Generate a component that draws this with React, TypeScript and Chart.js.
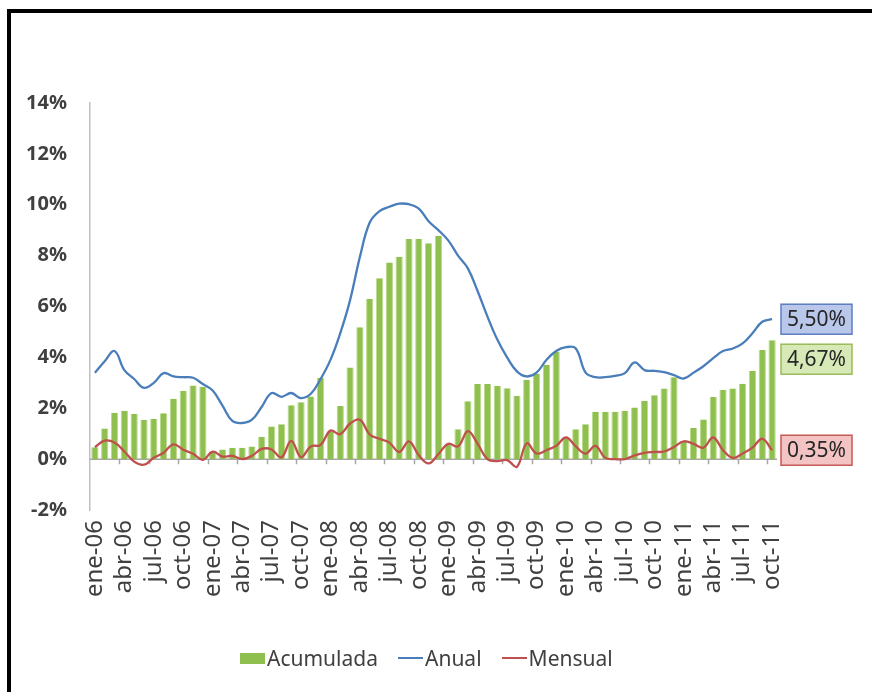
import React, { useEffect, useRef } from 'react';
import { Chart, registerables } from 'chart.js';

Chart.register(...registerables);

const categories = [
  'ene-06','feb-06','mar-06','abr-06','may-06','jun-06','jul-06','ago-06','sep-06','oct-06','nov-06','dic-06',
  'ene-07','feb-07','mar-07','abr-07','may-07','jun-07','jul-07','ago-07','sep-07','oct-07','nov-07','dic-07',
  'ene-08','feb-08','mar-08','abr-08','may-08','jun-08','jul-08','ago-08','sep-08','oct-08','nov-08','dic-08',
  'ene-09','feb-09','mar-09','abr-09','may-09','jun-09','jul-09','ago-09','sep-09','oct-09','nov-09','dic-09',
  'ene-10','feb-10','mar-10','abr-10','may-10','jun-10','jul-10','ago-10','sep-10','oct-10','nov-10','dic-10',
  'ene-11','feb-11','mar-11','abr-11','may-11','jun-11','jul-11','ago-11','sep-11','oct-11',
];

const acumulada = [
  0.47, 1.20, 1.82, 1.90, 1.78, 1.55, 1.59, 1.80, 2.37, 2.69, 2.89, 2.85,
  0.29, 0.38, 0.45, 0.45, 0.50, 0.88, 1.28, 1.37, 2.12, 2.24, 2.46, 3.20,
  1.10, 2.09, 3.60, 5.18, 6.29, 7.11, 7.73, 7.96, 8.65, 8.65, 8.49, 8.78,
  0.59, 1.17, 2.28, 2.95, 2.95, 2.87, 2.79, 2.49, 3.12, 3.36, 3.71, 4.22,
  0.82, 1.17, 1.37, 1.86, 1.86, 1.86, 1.90, 2.03, 2.29, 2.51, 2.78, 3.22,
  0.70, 1.22, 1.56, 2.44, 2.72, 2.78, 2.96, 3.47, 4.29, 4.67,
];

const anual = [
  3.40, 3.85, 4.25, 3.50, 3.15, 2.80, 3.00, 3.38, 3.25, 3.22, 3.20, 2.95,
  2.70, 2.10, 1.50, 1.42, 1.55, 2.06, 2.60, 2.45, 2.60, 2.40, 2.57, 3.15,
  3.90, 4.95, 6.25, 7.95, 9.30, 9.75, 9.92, 10.04, 10.02, 9.85, 9.35, 9.00,
  8.60, 8.00, 7.50, 6.60, 5.60, 4.70, 4.00, 3.45, 3.25, 3.40, 3.90, 4.25,
  4.40, 4.35, 3.40, 3.22, 3.22, 3.27, 3.38, 3.80, 3.50, 3.47, 3.42, 3.30,
  3.17, 3.40, 3.65, 3.97, 4.25, 4.35, 4.55, 4.95, 5.40, 5.50,
];

const mensual = [
  0.47, 0.73, 0.65, 0.30, -0.10, -0.22, 0.05, 0.25, 0.58, 0.37, 0.21, -0.03,
  0.29, 0.10, 0.13, 0.00, 0.13, 0.40, 0.38, 0.07, 0.72, 0.08, 0.50, 0.56,
  1.12, 0.98, 1.40, 1.55, 0.97, 0.80, 0.65, 0.28, 0.70, 0.15, -0.17, 0.20,
  0.60, 0.50, 1.10, 0.60, 0.00, -0.08, -0.04, -0.30, 0.62, 0.22, 0.35, 0.52,
  0.85, 0.50, 0.22, 0.52, 0.05, 0.00, 0.00, 0.15, 0.25, 0.28, 0.30, 0.48,
  0.70, 0.60, 0.45, 0.85, 0.35, 0.05, 0.22, 0.45, 0.80, 0.35,
];

const seriesNames = ['Acumulada', 'Anual', 'Mensual'];
const yMin = -2;
const yMax = 14;
const yStep = 2;
const labelEvery = 3;

const GREEN = '#8fc04f';
const BLUE = '#4a7ebb';
const RED = '#c0504d';
const seriesColors = [GREEN, BLUE, RED];
const FONT = "'Noto Sans', 'DejaVu Sans', sans-serif";

const endLabelStyles = [
  { fill: '#d7e9b6', stroke: '#9bbb59' },
  { fill: '#b9c7ea', stroke: '#5d7dc2' },
  { fill: '#f4c3c3', stroke: '#c65a57' },
];

const zeroAxisPlugin = {
  id: 'zeroAxis',
  beforeDatasetsDraw(chart: any) {
    const { ctx, chartArea, scales } = chart;
    const x = scales.x;
    const y = scales.y;
    const y0 = y.getPixelForValue(0);
    ctx.save();
    ctx.strokeStyle = '#a6a6a6';
    ctx.lineWidth = 1.5;
    ctx.beginPath();
    ctx.moveTo(chartArea.left, y0);
    ctx.lineTo(chartArea.right, y0);
    ctx.stroke();
    const half = (x.getPixelForValue(1) - x.getPixelForValue(0)) / 2;
    ctx.beginPath();
    for (let i = labelEvery; i < categories.length; i += labelEvery) {
      const px = Math.round(x.getPixelForValue(i) - half) + 0.5;
      ctx.moveTo(px, y0);
      ctx.lineTo(px, y0 + 5);
    }
    ctx.stroke();
    ctx.restore();
  },
};

const endLabelsPlugin = {
  id: 'endLabels',
  afterDraw(chart: any) {
    const { ctx, chartArea, scales } = chart;
    const y = scales.y;
    const items = chart.data.datasets.map((ds: any, i: number) => {
      const v = ds.data[ds.data.length - 1];
      return { v, py: y.getPixelForValue(v), style: endLabelStyles[i] };
    }).sort((a: any, b: any) => a.py - b.py);
    const h = 30;
    const w = 71;
    const gap = 10;
    let prevBottom = -Infinity;
    ctx.save();
    ctx.font = `21px ${FONT}`;
    ctx.textAlign = 'center';
    ctx.textBaseline = 'middle';
    for (const it of items) {
      const cy = Math.max(it.py, prevBottom + gap + h / 2);
      prevBottom = cy + h / 2;
      const bx = chartArea.right + 4;
      ctx.fillStyle = it.style.fill;
      ctx.strokeStyle = it.style.stroke;
      ctx.lineWidth = 1.5;
      ctx.fillRect(bx, cy - h / 2, w, h);
      ctx.strokeRect(bx, cy - h / 2, w, h);
      ctx.fillStyle = '#262626';
      ctx.fillText(it.v.toFixed(2).replace('.', ',') + '%', bx + w / 2, cy + 1);
    }
    ctx.restore();
  },
};

function LegendItem({ name, color, kind }: { name: string; color: string; kind: 'box' | 'line' }) {
  return (
    <div style={{ display: 'flex', alignItems: 'center' }}>
      <span
        style={{
          display: 'inline-block',
          width: 25,
          height: kind === 'box' ? 11 : 2.5,
          background: color,
          marginRight: 2,
        }}
      />
      <span>{name}</span>
    </div>
  );
}

export default function App() {
  const ref = useRef<HTMLCanvasElement | null>(null);

  useEffect(() => {
    if (!ref.current) return;
    const chart = new Chart(ref.current, {
      type: 'bar',
      data: {
        labels: categories,
        datasets: [
          {
            type: 'bar',
            label: seriesNames[0],
            data: acumulada,
            backgroundColor: GREEN,
            borderColor: '#b9dc8a',
            borderWidth: { left: 1, right: 1, top: 0, bottom: 0 },
            categoryPercentage: 1,
            barPercentage: 0.74,
            order: 3,
          } as any,
          {
            type: 'line',
            label: seriesNames[1],
            data: anual,
            borderColor: BLUE,
            backgroundColor: BLUE,
            borderWidth: 2.3,
            pointRadius: 0,
            tension: 0.4,
            order: 2,
          } as any,
          {
            type: 'line',
            label: seriesNames[2],
            data: mensual,
            borderColor: RED,
            backgroundColor: RED,
            borderWidth: 2.3,
            pointRadius: 0,
            tension: 0.4,
            order: 1,
          } as any,
        ],
      },
      options: {
        responsive: false,
        animation: false,
        layout: { padding: { left: 20, right: 95, top: 103, bottom: 63 } },
        plugins: {
          tooltip: { enabled: false },
          legend: { display: false },
        },
        scales: {
          x: {
            grid: { display: false, drawTicks: false },
            border: { display: false },
            ticks: {
              autoSkip: false,
              minRotation: 90,
              maxRotation: 90,
              padding: 10,
              color: '#404040',
              font: { family: FONT, size: 24 },
              callback: (_v: any, i: number) => (i % labelEvery === 0 ? categories[i] : ''),
            },
            afterFit: (s: any) => { s.height = 119; },
          },
          y: {
            min: yMin,
            max: yMax,
            grid: { display: false, drawTicks: false },
            border: { display: true, color: '#bfbfbf', width: 1.5 },
            ticks: {
              stepSize: yStep,
              padding: 23,
              color: '#404040',
              font: { family: FONT, size: 20, weight: 'bold' },
              callback: (v: any) => `${v}%`,
            },
            afterFit: (s: any) => { s.width = 70; },
          },
        },
      } as any,
      plugins: [zeroAxisPlugin, endLabelsPlugin],
    });
    return () => chart.destroy();
  }, []);

  return (
    <div style={{ position: 'absolute', left: 0, top: 0, width: 872, height: 692, overflow: 'hidden', background: '#fff' }}>
      <div
        style={{
          position: 'absolute', left: 7, top: 9, width: 900, height: 720,
          borderLeft: '4px solid #000', borderTop: '4px solid #000', boxSizing: 'border-box',
        }}
      />
      <canvas ref={ref} width={872} height={692} style={{ position: 'absolute', left: 0, top: 0, display: 'block' }} />
      <div
        style={{
          position: 'absolute', left: 240, top: 642, height: 32,
          display: 'flex', alignItems: 'center', gap: 20,
          fontFamily: FONT, fontSize: 21, color: '#404040', whiteSpace: 'nowrap',
        }}
      >
        {seriesNames.map((n, i) => (
          <LegendItem key={n} name={n} color={seriesColors[i]} kind={i === 0 ? 'box' : 'line'} />
        ))}
      </div>
    </div>
  );
}
